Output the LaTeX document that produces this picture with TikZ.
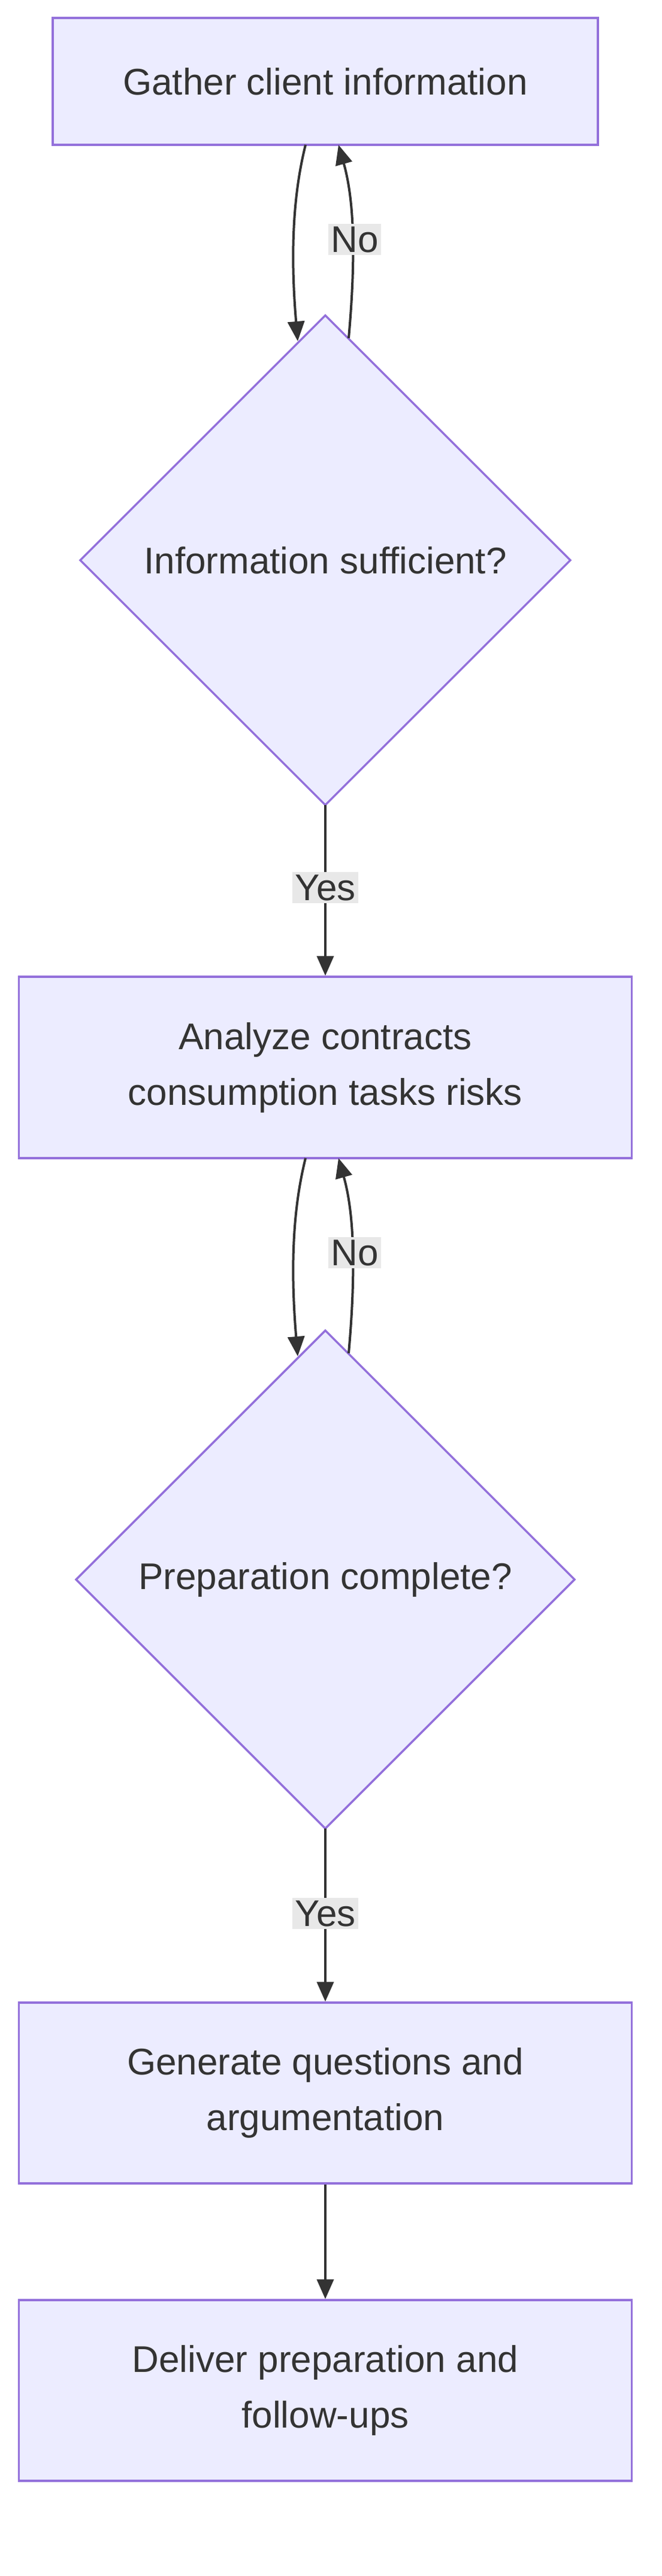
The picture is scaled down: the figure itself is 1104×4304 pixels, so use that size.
\documentclass[tikz,border=0pt]{standalone}
\usepackage{fontspec}
\setmainfont{Liberation Sans}
\usetikzlibrary{arrows.meta,shapes.geometric}
\definecolor{nfill}{HTML}{ECECFF}
\definecolor{nline}{HTML}{9370DB}
\definecolor{ntext}{HTML}{333333}
\definecolor{lbl}{HTML}{E8E8E8}
\begin{document}
\begin{tikzpicture}[x=1pt,y=-1pt,
  every node/.style={font=\fontsize{62}{93}\selectfont,text=ntext},
  boxn/.style={draw=nline,fill=nfill,line width=3.5pt,align=center,inner sep=0pt},
  diam/.style={draw=nline,fill=nfill,line width=3.5pt},
  edge/.style={draw=ntext,line width=4pt,-{Triangle[length=33pt,width=28pt]}},
  lab/.style={fill=lbl,inner sep=4pt}]
\useasboundingbox (0,0) rectangle (1104,4304);
\node[boxn,minimum width=910pt,minimum height=212pt] (b1) at (543,136) {Gather client information};
\filldraw[diam] (543,527) -- (952,936) -- (543,1345) -- (134,936) -- cycle;
\node (d1) at (543,936) {Information sufficient?};
\coordinate (d1t) at (543,527);
\coordinate (d1b) at (543,1345);
\node[boxn,minimum width=1023pt,minimum height=303pt] (b2) at (543,1783.5) {Analyze contracts\\consumption tasks risks};
\filldraw[diam] (543,2223) -- (959,2639) -- (543,3055) -- (127,2639) -- cycle;
\node (d2) at (543,2639) {Preparation complete?};
\coordinate (d2t) at (543,2223);
\coordinate (d2b) at (543,3055);
\node[boxn,minimum width=1023pt,minimum height=302pt] (b3) at (543,3497) {Generate questions and\\argumentation};
\node[boxn,minimum width=1023pt,minimum height=302pt] (b4) at (543,3994) {Deliver preparation and\\follow-ups};
% loops
\coordinate (a1) at (510,242); \coordinate (e1) at (497,570);
\coordinate (a2) at (582,565); \coordinate (e2) at (565,242);
\draw[edge] (a1) .. controls (488,330) and (485,430) .. (e1);
\draw[edge] (a2) .. controls (595,420) and (590,330) .. (e2);
\node[lab] (n1) at (592,400) {No};
\coordinate (a3) at (510,1935); \coordinate (e3) at (497,2266);
\coordinate (a4) at (582,2261); \coordinate (e4) at (565,1935);
\draw[edge] (a3) .. controls (488,2023) and (485,2123) .. (e3);
\draw[edge] (a4) .. controls (595,2115) and (590,2023) .. (e4);
\node[lab] (n2) at (592,2093) {No};
% yes
\draw[edge] (d1b) -- (b2.north);
\node[lab] (y1) at (543,1483) {Yes};
\draw[edge] (d2b) -- (b3.north);
\node[lab] (y2) at (543,3197) {Yes};
\draw[edge] (b3.south) -- (b4.north);
\end{tikzpicture}
\end{document}
